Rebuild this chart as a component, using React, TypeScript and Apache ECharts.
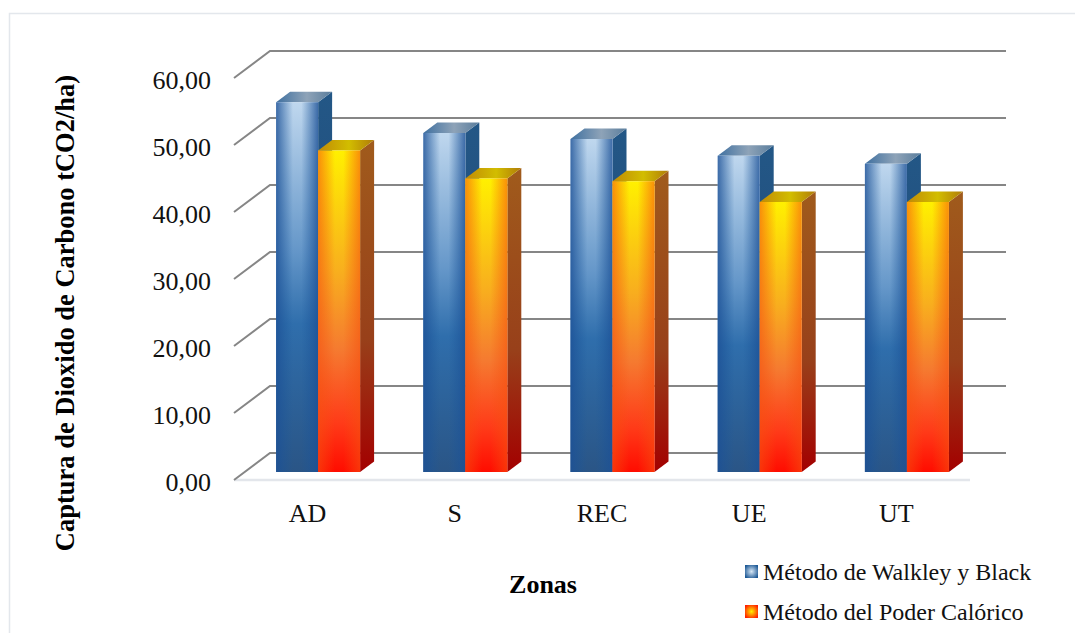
import React, { useEffect, useRef } from "react";
import * as echarts from "echarts";

const categories = ["AD", "S", "REC", "UE", "UT"];
const walkley = [55.2, 50.6, 49.7, 47.2, 46.0];
const calorico = [48.0, 43.8, 43.4, 40.3, 40.3];
const ticks = [0, 10, 20, 30, 40, 50, 60];
const seriesNames = ["Método de Walkley y Black", "Método del Poder Calórico"];
const yTitle = "Captura de Dioxido de Carbono tCO2/ha)";
const xTitle = "Zonas";

const FONT = '"Liberation Serif", "Times New Roman", serif';
const WALL = { dx: 36, dy: -27 };
const FRONT = { dx: 10.5, dy: -8 };
const DEPTH = { dx: 14, dy: -10.5 };
const BAR_W = 42;
const { LinearGradient, RadialGradient } = echarts.graphic as any;

const v = (stops: [number, string][]) =>
  new LinearGradient(0, 0, 0, 1, stops.map(([offset, color]) => ({ offset, color })));
const h = (stops: [number, string][]) =>
  new LinearGradient(0, 0, 1, 0, stops.map(([offset, color]) => ({ offset, color })));

const palette = [
  {
    front: () => v([[0, "#bfd7ee"], [0.4, "#6597c9"], [0.6, "#2f6eac"], [1, "#2a5586"]]),
    edge: () => h([[0, "rgba(28,80,150,0.8)"], [0.4, "rgba(28,88,155,0)"], [0.6, "rgba(28,88,155,0)"], [1, "rgba(28,80,150,0.8)"]]),
    side: () => v([[0, "#235786"], [1, "#1f4474"]]),
    top: () => h([[0, "#3f70a0"], [0.55, "#8ea3b8"], [1, "#5a7d9c"]]),
  },
  {
    front: () => v([[0, "#fff000"], [0.38, "#f8ae1e"], [0.62, "#f57a30"], [0.85, "#ff3a18"], [1, "#ff0c00"]]),
    edge: () => h([[0, "rgba(245,80,15,0.6)"], [0.4, "rgba(245,80,15,0)"], [0.6, "rgba(245,80,15,0)"], [1, "rgba(245,80,15,0.6)"]]),
    side: () => v([[0, "#a05b1c"], [0.6, "#98401a"], [1, "#a30000"]]),
    top: () => h([[0, "#c08a05"], [0.55, "#d2bd00"], [1, "#b07c08"]]),
  },
];

const barRenderer = (which: number) => (_p: any, api: any) => {
  const idx = api.value(0);
  const base = api.coord([idx, 0]);
  const top = api.coord([idx, api.value(1)]);
  const left = base[0] + FRONT.dx + (which === 0 ? -BAR_W : 0);
  const right = left + BAR_W;
  const y0 = base[1] + FRONT.dy;
  const y1 = top[1] + FRONT.dy;
  const c = palette[which];
  return {
    type: "group",
    children: [
      {
        type: "polygon",
        shape: { points: [[right, y1], [right + DEPTH.dx, y1 + DEPTH.dy], [right + DEPTH.dx, y0 + DEPTH.dy], [right, y0]] },
        style: { fill: c.side() },
      },
      {
        type: "polygon",
        shape: { points: [[left, y1], [left + DEPTH.dx, y1 + DEPTH.dy], [right + DEPTH.dx, y1 + DEPTH.dy], [right, y1]] },
        style: { fill: c.top() },
      },
      { type: "rect", shape: { x: left, y: y1, width: BAR_W, height: y0 - y1 }, style: { fill: c.front() } },
      { type: "rect", shape: { x: left, y: y1, width: BAR_W, height: y0 - y1 }, style: { fill: c.edge() } },
    ],
  };
};

const wallRenderer = (p: any, api: any) => {
  const cs = p.coordSys;
  const val = api.value(0);
  const y = api.coord([0, val])[1];
  const xl = cs.x;
  const xr = cs.x + cs.width;
  const line = {
    type: "polyline",
    shape: { points: [[xl, y], [xl + WALL.dx, y + WALL.dy], [xr + WALL.dx, y + WALL.dy]] },
    style: { stroke: "#868686", lineWidth: 2, fill: "none" },
  };
  if (val !== 0) return line;
  return {
    type: "group",
    children: [
      { type: "line", shape: { x1: xl, y1: y, x2: xr, y2: y }, style: { stroke: "#e3e6eb", lineWidth: 2.5 } },
      line,
    ],
  };
};

const legendIcon = (inner: string, outer: string) =>
  new RadialGradient(0.5, 0.5, 0.6, [
    { offset: 0, color: inner },
    { offset: 1, color: outer },
  ]);

export default function App() {
  const ref = useRef<HTMLDivElement>(null);
  useEffect(() => {
    const chart = echarts.init(ref.current!, undefined, { renderer: "svg" });
    chart.setOption({
      animation: false,
      backgroundColor: "#ffffff",
      textStyle: { fontFamily: FONT },
      grid: { left: 234, top: 78, width: 736, height: 402 },
      xAxis: {
        type: "category",
        data: categories,
        axisLine: { show: false },
        axisTick: { show: false },
        axisLabel: { color: "#111", fontSize: 26, fontFamily: FONT, margin: 20 },
        name: xTitle,
        nameLocation: "middle",
        nameGap: 91,
        nameTextStyle: { color: "#000", fontSize: 26, fontWeight: "bold", fontFamily: FONT, padding: [0, 118, 0, 0] },
      },
      yAxis: {
        type: "value",
        min: 0,
        max: 60,
        interval: 10,
        splitLine: { show: false },
        axisLine: { show: false },
        axisTick: { show: false },
        axisLabel: {
          color: "#111",
          fontSize: 26,
          fontFamily: FONT,
          margin: 23,
          lineHeight: 32,
          verticalAlign: "top",
          padding: [-14, 0, 0, 0],
          formatter: (x: number) => x.toFixed(2).replace(".", ","),
        },
        name: yTitle,
        nameLocation: "middle",
        nameGap: 156,
        nameTextStyle: { color: "#000", fontSize: 26.5, fontWeight: "bold", fontFamily: FONT, padding: [0, 68, 0, 0] },
      },
      legend: {
        orient: "vertical",
        left: 745,
        top: 559.5,
        padding: 0,
        itemWidth: 13,
        itemHeight: 13,
        itemGap: 16,
        textStyle: { color: "#111", fontSize: 24, fontFamily: FONT, padding: [0, 0, 0, 0] },
        data: [
          { name: seriesNames[0], icon: "rect", itemStyle: { color: legendIcon("#d8e8f6", "#1f5a96") } },
          { name: seriesNames[1], icon: "rect", itemStyle: { color: legendIcon("#fff000", "#ff2000") } },
        ],
      },
      graphic: [
        {
          type: "polyline",
          silent: true,
          shape: { points: [[9.5, 633], [9.5, 13.5], [1075, 13.5]] },
          style: { stroke: "#e3e7ec", lineWidth: 1.5, fill: "none" },
        },
      ],
      series: [
        {
          type: "custom",
          renderItem: wallRenderer,
          data: ticks.map((t) => [t]),
          encode: { y: 0 },
          silent: true,
          z: 1,
        },
        {
          type: "custom",
          name: seriesNames[0],
          renderItem: barRenderer(0),
          data: walkley.map((val, i) => [i, val]),
          encode: { x: 0, y: 1 },
          z: 2,
        },
        {
          type: "custom",
          name: seriesNames[1],
          renderItem: barRenderer(1),
          data: calorico.map((val, i) => [i, val]),
          encode: { x: 0, y: 1 },
          z: 3,
        },
      ],
    });
    return () => chart.dispose();
  }, []);
  return <div ref={ref} style={{ position: "fixed", left: 0, top: 0, width: 1075, height: 633 }} />;
}
